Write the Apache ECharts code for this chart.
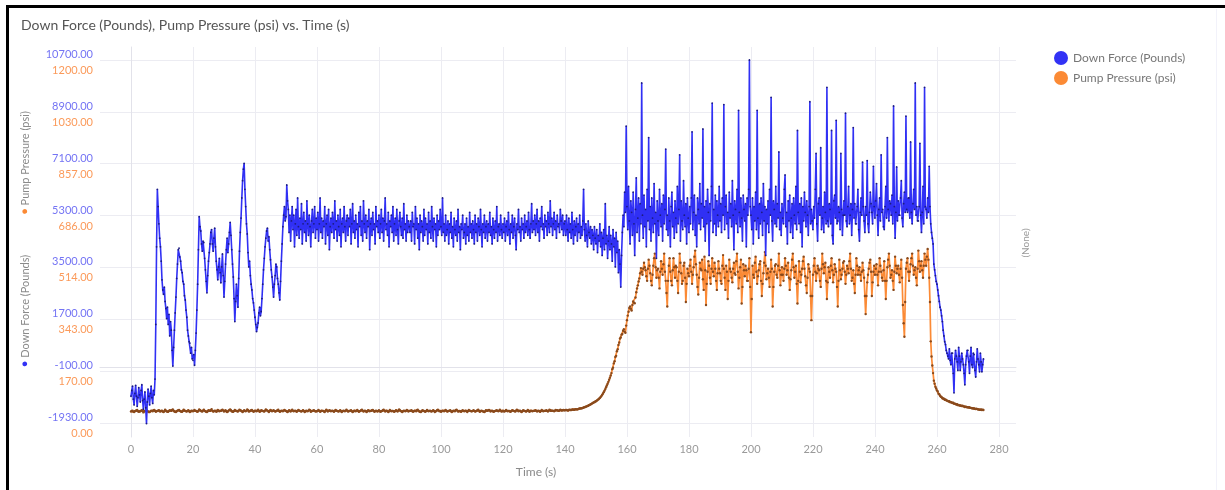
<!DOCTYPE html>
<html><head><meta charset="utf-8">
<script src="https://cdn.jsdelivr.net/npm/echarts@6/dist/echarts.min.js"></script>
<style>html,body{margin:0;padding:0;background:#fff}#c{width:1225px;height:490px}</style>
</head><body><div id="c"></div>
<script>
// sampling grid of the recording (seconds)
const sampleStart = 0;
const sampleStep = 0.25;

// Down Force (Pounds), one value per 0.25 s (40 per 10 s row)
const downForce = [
-1000,-800,-650,-1100,-1300,-900,-620,-1000,-1350,-1050,-700,-950,-1200,-800,-600,-1150,-1450,-1100,-850,-1400,-1950,-1200,-750,-1000,-1300,-900,-650,-1050,-1250,-800,-950,-400,1500,4200,6200,5600,5000,4500,4200,3700,
3050,2700,2550,2800,2300,2050,1700,2100,1500,1850,1100,1600,1300,600,50,700,1300,1900,2450,3100,3600,4100,4150,3850,3700,3400,3300,3000,2900,2500,2350,2000,1750,1300,1100,900,850,500,700,300,
250,450,80,600,1200,2000,2900,4100,5250,4900,4750,4300,4050,4400,4350,3800,3400,3000,2600,3200,3700,4000,4300,4700,4800,4300,4050,4500,4850,4200,3700,3400,3050,3500,3800,3300,2950,3500,3950,3200,
2450,3000,3600,4100,4500,4000,4300,4700,5050,4600,4100,3600,3150,2400,1600,2300,2900,2500,2100,3100,4050,4700,5200,5900,6500,6900,7100,6200,5600,5000,4650,4000,3500,3700,3200,2900,2700,2400,2250,2000,
1750,1500,1250,1400,1550,1900,2100,1800,1950,2400,2900,3400,3800,4200,4500,4750,4850,4400,4550,4100,3750,3400,3150,2800,2450,2900,3200,3600,3500,3100,2900,2600,2350,3000,3700,4300,4900,5300,5600,5100,
5250,6350,5800,5500,4700,5300,4400,5100,5600,4800,5300,4200,5000,5500,4600,5900,4900,4500,5200,4800,5700,4300,5000,5400,4700,5100,4400,5800,5000,4600,5300,4900,4200,5100,5500,4700,5000,5600,4500,5200,
4800,5400,4400,5000,5900,4700,5200,4500,5100,4900,5600,4300,5000,5300,4600,5500,4100,4900,5200,4700,5400,5000,4500,5800,4800,5100,4400,5300,4900,4600,5500,4200,5000,5200,4700,5600,4900,4400,5100,5300,
4600,5200,4900,5500,4300,5000,5700,4700,5100,4500,5300,4800,5000,4200,5400,4900,5600,4600,5100,4400,5800,5000,4700,5300,4500,5100,4900,5500,4100,5000,5200,4600,5400,4800,5000,4300,5600,4900,5100,4700,
5300,4500,5000,5500,4700,5200,4400,5100,5900,4800,5000,4600,5400,4200,5100,4900,5300,4700,5600,4400,5000,5200,4600,5500,4800,4300,5100,5400,4900,4600,5200,4500,5700,4800,5000,4400,5300,4700,5100,4900,
4700,5100,4400,5400,4900,5000,4300,5600,4800,5200,4500,5000,4100,5300,4700,5100,4900,4400,5500,4600,5200,4800,5000,4300,5400,4700,5100,4500,5600,4900,4400,5200,4800,5000,4200,5300,4600,5100,4800,5500,
4900,4600,5900,4700,5000,4400,5300,4600,4800,5100,4300,5000,4700,5400,4500,4900,4200,5200,4800,4600,5100,4400,5500,4700,4900,4100,5000,4800,5300,4500,4700,5000,4300,5200,4600,4900,4400,5400,4700,5000,
4500,5100,4800,4300,5300,4700,5000,4400,5200,4900,4600,5500,4800,4200,5000,4700,5300,4500,4900,5100,4400,5000,4700,5400,4600,4900,4300,5200,4800,4500,5100,4700,5600,4400,4900,5000,4600,5300,4800,4500,
5000,4700,5200,4400,4900,5100,4600,5400,4800,4300,5000,4700,5300,4500,4900,5200,4600,4100,5000,4800,5500,4700,4900,4400,5200,4800,5000,4500,5300,4700,4900,5100,4600,5400,4800,4500,5000,5700,4700,5100,
4800,5300,4600,5000,5500,4700,5100,4400,5200,4900,5600,4800,5000,4500,5300,4900,5100,4600,5400,5000,4700,5800,4900,5200,4600,5000,5400,4800,5100,4500,5300,4900,5000,4700,5500,5100,4800,5300,4600,5000,
5100,4600,5300,4800,4400,5200,4700,5000,4500,5400,4800,4300,5100,4600,4900,5200,4400,5000,4700,5300,4500,4900,4600,5100,6200,4800,4400,5000,4600,4200,5100,4700,4500,4900,4300,4800,4600,4100,4900,4500,
4300,4800,4000,4600,4400,5000,4200,4700,3900,4500,4800,4100,5700,4300,4600,3800,4400,4900,4100,4600,4300,3700,4800,4200,4500,3500,4700,4000,4400,3300,4100,3600,2800,3900,4700,5300,4900,6100,5400,8400,
5600,4800,6300,5100,4300,5800,5400,4600,6100,5000,3900,5500,6600,4700,5200,5900,4400,5700,5000,9900,5300,4500,6000,4900,5500,4200,6200,5100,8000,4800,5600,4400,5900,5200,4700,6400,5000,5400,3800,5800,
5100,4600,6200,5300,4900,5700,4400,6000,5000,5500,7600,4800,5300,4600,5900,5100,4200,5600,6100,4900,5400,4500,5800,5200,4700,6300,5000,5500,7400,4400,5800,5100,4800,6500,5300,4900,5700,4300,5900,5200,
4700,5600,5000,5900,8200,4800,5400,6000,4600,5300,4200,5900,5500,5000,6400,4800,5700,5200,8300,4900,5600,4400,5800,5000,6200,5400,3900,5700,5100,6300,9200,4700,5500,5000,6000,4600,5800,5300,4900,6300,
5100,5700,4700,5900,5300,9150,4800,5600,6000,5000,5400,4500,6100,5200,5700,4900,6500,5300,4100,5800,5500,5000,6200,4700,8950,5400,4900,5900,5200,4400,6000,5500,5100,5700,4200,5900,5300,6200,10700,5600,
5300,4800,5900,4300,5600,5100,6100,4800,8950,5200,4500,5700,5000,5900,5400,4600,6400,5100,5600,3900,5500,5000,5800,4700,6200,5300,9400,5100,4400,5800,5500,5000,6300,4900,5700,5200,7500,4800,5400,4600,
5700,5200,5000,6200,6700,4900,5400,4300,5800,5100,6000,4700,5200,5700,4500,5900,5300,5000,6300,4800,8250,5400,5000,5700,4700,5900,4200,5600,5100,6100,5400,4900,5800,5300,4600,5600,9250,5000,5500,5100,
4800,5600,5200,6200,7450,5000,4400,5700,5900,5300,7650,4800,5200,5600,4700,6100,5400,5000,9750,5100,4900,5700,5500,5000,8250,4600,4300,5800,6000,5200,8600,5000,5100,5600,5400,4800,7450,5500,4600,5300,
5800,5300,8850,5100,4900,5600,6300,5000,5300,5700,4600,5500,8350,5200,5700,5000,5000,5600,6200,4800,4400,5400,5900,5300,7150,5600,5100,4700,5600,5300,7200,5000,4700,5400,6100,5700,5400,5000,7000,5600,
5200,5800,6400,5300,4600,5500,5900,5100,7400,5400,5500,4900,4800,5600,6300,5200,8000,5500,5100,5800,5700,5300,6000,5000,9100,5600,4500,5400,6980,5100,5800,5300,5300,5900,6500,5200,4900,5700,6100,5400,
8750,5500,5400,5900,5900,5200,7850,5400,5000,5700,6200,5500,9900,5300,5600,5100,5100,5600,7800,5300,4700,5400,6300,5000,9750,5600,5500,5200,5900,5400,7000,5600,5000,4700,4500,4300,3600,3400,3200,3000,
2900,2700,2500,2300,2100,2000,1800,1600,1300,1100,900,800,600,500,400,300,650,250,100,500,500,-200,-880,300,600,400,200,-100,700,400,-100,200,500,300,100,-200,-600,100,400,600,
600,200,-200,400,700,100,0,500,450,-100,-330,200,650,300,100,-150,500,200,-150,100,300
];

// Pump Pressure (psi), one value per 0.25 s (40 per 10 s row)
const pumpPressure = [
38,40,41,37,36,39,40,42,43,39,37,38,39,41,42,40,35,38,40,41,44,40,38,36,36,39,41,40,39,42,43,40,37,39,40,41,42,39,38,40,
41,38,36,39,44,41,39,37,37,40,42,41,40,43,45,41,38,37,36,39,41,42,43,40,39,37,37,40,44,41,40,39,38,40,42,39,36,38,41,40,
39,41,43,40,40,38,37,40,45,42,41,39,38,41,44,40,39,37,36,39,42,41,40,42,46,41,38,39,41,40,37,39,43,41,39,40,40,42,44,41,
38,40,42,39,36,38,41,43,45,42,39,37,37,40,43,41,40,39,38,41,44,42,41,39,36,39,42,40,39,41,45,42,38,39,40,42,43,40,37,39,
41,40,39,41,44,41,37,39,42,41,40,39,38,41,45,42,41,39,36,40,43,41,39,40,42,40,38,39,40,42,44,40,37,39,41,40,39,41,43,41,
40,38,36,39,42,40,38,41,44,41,39,40,41,39,37,40,43,41,40,39,38,40,42,40,36,38,41,40,39,41,44,42,37,39,40,41,42,40,38,39,
39,41,43,40,37,39,41,40,40,38,36,40,44,41,38,40,42,41,39,40,41,39,37,40,43,41,40,39,38,40,42,39,36,39,41,40,39,41,44,41,
38,39,40,41,42,39,36,38,41,40,39,41,43,40,37,39,40,42,44,41,38,40,41,39,36,39,42,41,39,40,40,42,43,40,37,39,41,40,38,40,
42,39,37,39,40,42,44,41,38,40,41,39,36,39,43,41,39,40,40,38,37,40,42,40,38,41,45,42,40,38,36,39,41,40,39,41,43,41,38,40,
40,41,42,39,37,39,41,40,39,42,44,41,38,37,36,39,42,41,40,38,37,40,43,41,39,40,41,39,38,40,42,40,36,38,40,42,44,41,39,40,
37,39,41,40,39,41,43,41,38,39,40,41,42,39,36,39,41,40,39,42,44,41,38,39,40,39,37,40,42,40,39,40,41,39,36,40,43,41,40,39,
39,40,42,40,38,39,40,42,44,41,37,39,41,40,39,37,36,39,42,41,40,42,43,41,38,40,41,39,37,39,40,41,42,40,39,41,44,41,38,39,
41,39,38,40,43,41,39,40,40,38,37,40,42,41,40,39,38,41,44,42,39,40,41,39,36,39,42,41,40,39,38,40,43,41,37,39,41,40,39,40,
40,41,42,40,38,40,41,39,37,40,43,41,39,40,40,41,42,40,38,40,44,42,40,41,41,40,39,41,43,42,42,41,40,42,44,42,41,42,43,42,
42,43,43,42,41,43,44,43,43,44,45,44,44,45,46,45,45,46,47,48,48,49,49,50,51,52,53,54,55,56,57,59,60,62,63,65,66,68,69,71,
72,74,76,78,80,83,86,89,93,97,102,107,112,118,124,130,136,143,150,157,165,178,183,197,204,218,222,237,244,258,266,279,283,292,294,305,310,302,298,322,
340,355,368,380,385,378,372,390,402,398,396,415,432,445,455,468,478,495,512,500,490,510,530,515,505,485,470,510,540,520,495,470,455,490,520,545,560,515,480,505,
510,480,445,500,535,510,490,525,560,500,470,430,385,470,520,545,500,470,455,505,545,515,480,520,515,470,430,500,560,530,495,460,470,520,530,480,400,460,510,495,
485,520,540,500,460,490,515,550,570,525,490,450,425,480,530,510,505,540,475,440,550,505,390,460,500,535,520,480,460,510,545,500,485,530,510,470,440,495,535,510,
495,470,460,520,555,510,480,440,520,500,410,470,540,510,500,480,465,510,530,495,490,535,560,500,445,480,515,540,395,450,525,505,485,520,505,470,470,510,545,450,
300,410,520,490,480,530,550,500,460,485,505,525,535,470,420,460,495,530,565,520,475,495,510,480,450,500,540,510,385,450,500,520,525,490,480,520,560,505,455,490,
515,490,470,510,545,520,490,505,530,480,440,475,505,540,560,515,480,500,520,460,395,470,535,500,465,490,510,535,550,510,485,455,430,480,525,510,500,420,340,420,
490,520,545,500,470,495,520,510,505,470,450,510,560,525,495,515,530,470,410,465,515,500,480,520,545,505,465,490,525,510,500,450,385,470,540,505,475,490,510,530,
535,500,460,490,520,510,495,535,560,510,470,480,505,460,430,490,545,520,490,505,515,490,470,500,530,505,480,420,360,420,465,490,510,530,540,500,420,465,500,520,
490,510,525,490,455,500,545,520,500,480,470,505,535,470,410,470,515,540,560,520,480,490,505,470,440,500,550,520,495,510,520,490,465,510,540,480,390,330,285,400,
510,530,545,500,470,500,525,545,560,520,490,505,515,480,455,510,570,535,500,520,535,505,480,520,560,540,520,550,575,540,480,400,270,220,190,165,140,130,120,114,
108,104,97,95,90,87,86,82,81,80,77,78,75,74,73,71,72,69,69,68,66,67,64,64,63,61,62,59,60,58,58,57,56,57,55,55,53,54,53,52,
52,51,52,50,50,49,49,48,48,47,46,47,46,45,45,44,44,45,43,44,43
];

// tick labels
const timeTicks = [0,20,40,60,80,100,120,140,160,180,200,220,240,260,280];
const forceTickLabels = ['-1930.00','-100.00','1700.00','3500.00','5300.00','7100.00','8900.00','10700.00'];
const pressureTickLabels = ['0.00','170.00','343.00','514.00','686.00','857.00','1030.00','1200.00'];
const forceTickLow = -1930, forceTickHigh = 10700;
const pressureTickLow = 0, pressureTickHigh = 1200;

const nSteps = forceTickLabels.length - 1;
const forceStep = (forceTickHigh - forceTickLow) / nSteps;
const pressureStep = (pressureTickHigh - pressureTickLow) / nSteps;
const forceTickValues = forceTickLabels.map((_, i) => forceTickLow + i * forceStep);
const pressureTickValues = pressureTickLabels.map((_, i) => pressureTickLow + i * pressureStep);
// axis padding outside the outer ticks (fraction of one step)
const padLo = 14 / 51.86, padHi = 13 / 51.86;

const forceData = downForce.map((v, i) => [sampleStart + i * sampleStep, v]);
const pressureData = pumpPressure.map((v, i) => [sampleStart + i * sampleStep, v]);

const FONT = 'Lato, "Open Sans", sans-serif';
const chart = echarts.init(document.getElementById('c'), null, {renderer: 'canvas'});
chart.setOption({
  animation: false,
  backgroundColor: '#fff',
  textStyle: {fontFamily: FONT},
  title: {
    text: 'Down Force (Pounds), Pump Pressure (psi) vs. Time (s)',
    left: 16, top: 13,
    textStyle: {fontSize: 14, fontWeight: 'normal', color: '#555', fontFamily: FONT}
  },
  legend: {
    orient: 'vertical', left: 1049, top: 46, itemGap: 6,
    icon: 'circle', itemWidth: 14, itemHeight: 14,
    textStyle: {fontSize: 12, color: '#777', fontFamily: FONT},
    data: [
      {name: 'Down Force (Pounds)', itemStyle: {color: '#3232f5'}},
      {name: 'Pump Pressure (psi)', itemStyle: {color: '#fb8a35'}}
    ]
  },
  grid: {left: 100, right: 209, top: 47, bottom: 53, containLabel: false},
  xAxis: {
    type: 'value', min: -10, max: 285.5,
    axisLine: {show: true, lineStyle: {color: '#e2e2ea'}},
    axisTick: {show: false, customValues: timeTicks},
    axisLabel: {customValues: timeTicks, color: '#9a9a9a', fontSize: 11, margin: 7, fontFamily: FONT},
    splitLine: {show: true, lineStyle: {color: '#ececf2', width: 1}}
  },
  yAxis: [
    {
      type: 'value', position: 'left',
      min: forceTickLow - padLo * forceStep, max: forceTickHigh + padHi * forceStep,
      axisLine: {show: true, lineStyle: {color: '#e2e2ea'}},
      axisTick: {show: false, customValues: forceTickValues},
      axisLabel: {
        customValues: forceTickValues, color: '#7474f4', fontSize: 11, margin: 7,
        verticalAlign: 'bottom', fontFamily: FONT,
        formatter: v => forceTickLabels[Math.round((v - forceTickLow) / forceStep)]
      },
      splitLine: {show: true, lineStyle: {color: '#ececf2', width: 1}}
    },
    {
      type: 'value', position: 'left', offset: 0,
      min: pressureTickLow - padLo * pressureStep, max: pressureTickHigh + padHi * pressureStep,
      axisLine: {show: false},
      axisTick: {show: false, customValues: pressureTickValues},
      axisLabel: {
        customValues: pressureTickValues, color: '#fb9a5a', fontSize: 11, margin: 7,
        verticalAlign: 'top', padding: [5, 0, 0, 0], fontFamily: FONT,
        formatter: v => pressureTickLabels[Math.round((v - pressureTickLow) / pressureStep)]
      },
      splitLine: {show: false}
    }
  ],
  graphic: [
    {type: 'rect', shape: {x: 6, y: 5, width: 1219, height: 3}, style: {fill: '#000'}, silent: true},
    {type: 'rect', shape: {x: 6, y: 5, width: 3, height: 485}, style: {fill: '#000'}, silent: true},
    {type: 'rect', shape: {x: 1216, y: 9, width: 1, height: 481}, style: {fill: '#f2f2fa'}, silent: true},
    {type: 'text', x: 25, y: 311, rotation: Math.PI / 2, silent: true,
      style: {text: '{d|●} Down Force (Pounds)', align: 'center', verticalAlign: 'middle',
        fontSize: 11, fill: '#8a8a8a', fontFamily: FONT,
        rich: {d: {fill: '#3232f5', fontSize: 11}}}},
    {type: 'text', x: 25, y: 163, rotation: Math.PI / 2, silent: true,
      style: {text: '{d|●} Pump Pressure (psi)', align: 'center', verticalAlign: 'middle',
        fontSize: 11, fill: '#8a8a8a', fontFamily: FONT,
        rich: {d: {fill: '#fb8a35', fontSize: 11}}}},
    {type: 'text', x: 1026, y: 243, rotation: Math.PI / 2, silent: true,
      style: {text: '(None)', align: 'center', verticalAlign: 'middle',
        fontSize: 10, fill: '#9a9a9a', fontFamily: FONT}},
    {type: 'text', x: 536, y: 472, silent: true,
      style: {text: 'Time (s)', align: 'center', verticalAlign: 'middle',
        fontSize: 12, fill: '#8a8a8a', fontFamily: FONT}}
  ],
  series: [
    {
      name: 'Pump Pressure (psi)', type: 'line', yAxisIndex: 1, data: pressureData,
      symbol: 'circle', symbolSize: 2.4, showSymbol: true, showAllSymbol: true,
      lineStyle: {color: '#fb8a35', width: 1.7},
      itemStyle: {color: '#8a4a1c'}, z: 2, emphasis: {disabled: true}
    },
    {
      name: 'Down Force (Pounds)', type: 'line', yAxisIndex: 0, data: forceData,
      symbol: 'circle', symbolSize: 1.8, showSymbol: true, showAllSymbol: true,
      lineStyle: {color: '#3030f4', width: 1.6},
      itemStyle: {color: '#1c1c80'}, z: 3, emphasis: {disabled: true}
    }
  ]
});
</script></body></html>
